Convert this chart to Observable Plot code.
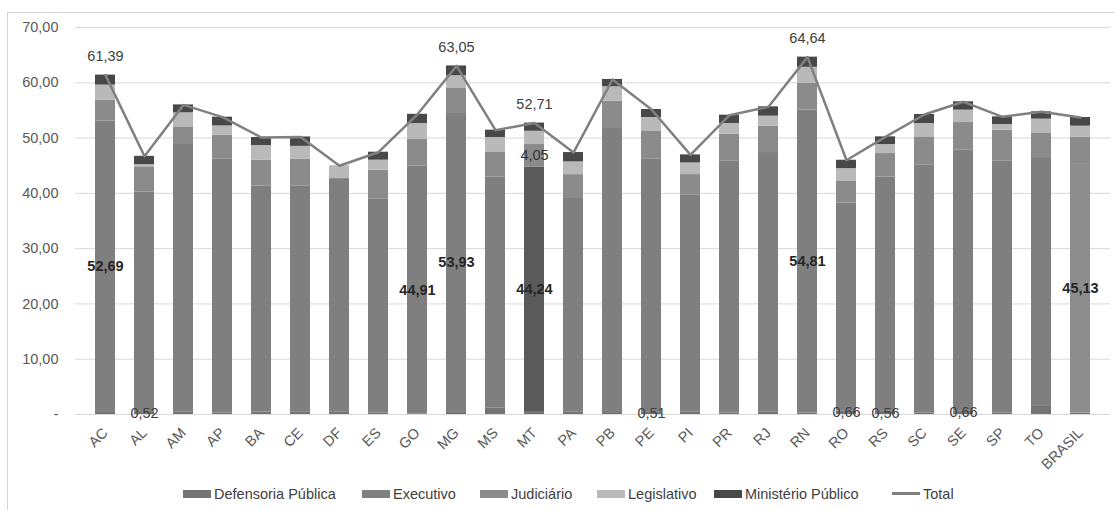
<!DOCTYPE html>
<html>
<head>
<meta charset="utf-8">
<script src="https://cdn.jsdelivr.net/npm/d3@7"></script>
<script src="https://cdn.jsdelivr.net/npm/@observablehq/plot@0.6"></script>
<style>
  html, body { margin: 0; padding: 0; background: #fff; }
  body { width: 1114px; height: 510px; position: relative; overflow: hidden; font-family: "Liberation Sans", Arial, sans-serif; }
  #frame { position: absolute; left: 7px; top: 12px; width: 1130px; height: 520px; border: 1px solid #d4d4d4; box-sizing: border-box; }
  #chart { position: absolute; left: 0; top: 0; }
  .lg { position: absolute; top: 485px; height: 17px; display: flex; align-items: center; font-size: 14.5px; color: #404040; white-space: nowrap; }
  .sw { width: 28px; height: 8px; margin-right: 3px; }
  .ln { width: 28px; height: 3px; margin-right: 3px; background: #808080; }
</style>
</head>
<body>
<div id="frame"></div>
<div id="chart"></div>
<div id="legend"></div>
<script>
const categories = ["AC","AL","AM","AP","BA","CE","DF","ES","GO","MG","MS","MT","PA","PB","PE","PI","PR","RJ","RN","RO","RS","SC","SE","SP","TO","BRASIL"];
const seriesNames = ["Defensoria Pública","Executivo","Judiciário","Legislativo","Ministério Público"];
const defensoria = [0.37,0.52,0.40,0.30,0.45,0.50,0.40,0.30,0.05,0.51,1.20,0.54,0.40,0.35,0.51,0.40,0.30,0.40,0.26,0.66,0.56,0.30,0.66,0.30,1.60,0.26];
const executivo  = [52.69,39.73,48.60,45.87,40.89,40.78,42.27,38.63,44.91,53.93,41.77,44.24,38.83,51.38,45.66,39.25,45.50,46.98,54.81,37.60,42.41,44.78,47.14,45.50,44.87,45.13];
const judiciario = [3.80,4.55,3.03,4.33,4.66,4.92,0.00,5.25,4.77,4.53,4.53,4.05,4.16,4.95,5.13,3.75,4.90,4.77,4.83,3.99,4.23,5.14,5.01,5.63,4.47,4.79];
const legislativo= [2.72,0.40,2.54,1.70,2.65,2.30,2.33,1.82,2.90,2.30,2.60,2.40,2.30,2.60,2.42,2.10,1.93,1.81,2.90,2.23,1.63,2.41,2.24,1.02,2.48,1.97];
const ministerio = [1.81,1.50,1.43,1.58,1.45,1.70,0.00,1.44,1.67,1.78,1.33,1.48,1.69,1.32,1.45,1.46,1.51,1.69,1.84,1.51,1.39,1.63,1.51,1.39,1.33,1.57];
const total      = [61.39,46.72,56.00,53.78,50.10,50.20,45.00,47.44,54.30,63.05,51.43,52.71,47.38,60.60,55.17,46.96,54.14,55.65,64.64,45.99,50.22,54.26,56.56,53.84,54.75,53.72];
const yTicks = [0,10,20,30,40,50,60,70];

// which values carry a data label in the original
const totalLabelCats = ["AC","MG","MT","RN"];
const execLabelCats = ["AC","GO","MG","MT","RN","BRASIL"];
const defLabelCats = ["AL","PE","RO","RS","SE"];
const judLabelCats = ["MT"];

const seriesArrays = [defensoria, executivo, judiciario, legislativo, ministerio];
const rows = [];
categories.forEach((c, i) => {
  seriesNames.forEach((s, k) => {
    rows.push({uf: c, series: s, value: seriesArrays[k][i],
      key: (s === "Executivo" && c === "MT") ? "Executivo MT" : (s === "Executivo" && c === "BRASIL") ? "Executivo BR" : s});
  });
});
const totals = categories.map((c, i) => ({uf: c, total: total[i]}));
const fmt = v => v.toFixed(2).replace(".", ",");

const execLab = categories.map((c, i) => ({uf: c, y: defensoria[i] + executivo[i] / 2, v: executivo[i]})).filter(d => execLabelCats.includes(d.uf));
const defLab = categories.map((c, i) => ({uf: c, y: defensoria[i] / 2, v: defensoria[i]})).filter(d => defLabelCats.includes(d.uf));
const judLab = categories.map((c, i) => ({uf: c, y: defensoria[i] + executivo[i] + judiciario[i] / 2, v: judiciario[i]})).filter(d => judLabelCats.includes(d.uf));
const totLab = totals.filter(d => totalLabelCats.includes(d.uf));

const colorDomain = ["Defensoria Pública","Executivo","Judiciário","Legislativo","Ministério Público","Executivo MT","Executivo BR"];
const colorRange  = ["#747474","#7f7f7f","#8b8b8b","#b9b9b9","#484848","#5a5a5a","#8d8d8d"];

const chart = Plot.plot({
  width: 1114,
  height: 482,
  marginTop: 27,
  marginBottom: 68,
  marginLeft: 75,
  marginRight: 4,
  style: {fontFamily: "'Liberation Sans', Arial, sans-serif", fontSize: "14.5px", color: "#595959", background: "transparent", overflow: "visible"},
  x: {domain: categories, padding: 0.5, label: null, axis: null},
  y: {domain: [0, 70], label: null},
  color: {domain: colorDomain, range: colorRange},
  marks: [
    Plot.gridY(yTicks, {stroke: "#d9d9d9", strokeOpacity: 1, strokeWidth: 1}),
    Plot.axisY({ticks: yTicks, tickSize: 0, tickPadding: 17, tickFormat: d => d === 0 ? "-" : fmt(d), fontSize: 14.5, fill: "#595959"}),
    Plot.text(categories, {x: d => d, frameAnchor: "bottom", rotate: -45, textAnchor: "end", lineAnchor: "middle", dx: 0, dy: 16, fontSize: 14.5, fill: "#595959"}),
    Plot.barY(rows, {x: "uf", y: "value", fill: "key", order: seriesNames, z: "series"}),
    Plot.line(totals, {x: "uf", y: "total", stroke: "#808080", strokeWidth: 2.5}),
    Plot.text(totLab, {x: "uf", y: "total", text: d => fmt(d.total), dy: -19, fontSize: 14.5, fill: "#404040"}),
    Plot.text(execLab, {x: "uf", y: "y", text: d => fmt(d.v), fontSize: 14.5, fontWeight: "bold", fill: "#262626"}),
    Plot.text(defLab, {x: "uf", y: "y", text: d => fmt(d.v), fontSize: 14.5, fill: "#404040"}),
    Plot.text(judLab, {x: "uf", y: "y", text: d => fmt(d.v), fontSize: 14.5, fill: "#333333"})
  ]
});
document.getElementById("chart").appendChild(chart);

// legend
const legendItems = [
  {name: "Defensoria Pública", color: colorRange[0], left: 183},
  {name: "Executivo", color: colorRange[1], left: 362},
  {name: "Judiciário", color: colorRange[2], left: 480},
  {name: "Legislativo", color: colorRange[3], left: 597},
  {name: "Ministério Público", color: colorRange[4], left: 714},
  {name: "Total", line: true, left: 892}
];
const lg = document.getElementById("legend");
legendItems.forEach(it => {
  const d = document.createElement("div");
  d.className = "lg";
  d.style.left = it.left + "px";
  const s = document.createElement("span");
  s.className = it.line ? "ln" : "sw";
  if (!it.line) s.style.background = it.color;
  d.appendChild(s);
  d.appendChild(document.createTextNode(it.name));
  lg.appendChild(d);
});
</script>
</body>
</html>
